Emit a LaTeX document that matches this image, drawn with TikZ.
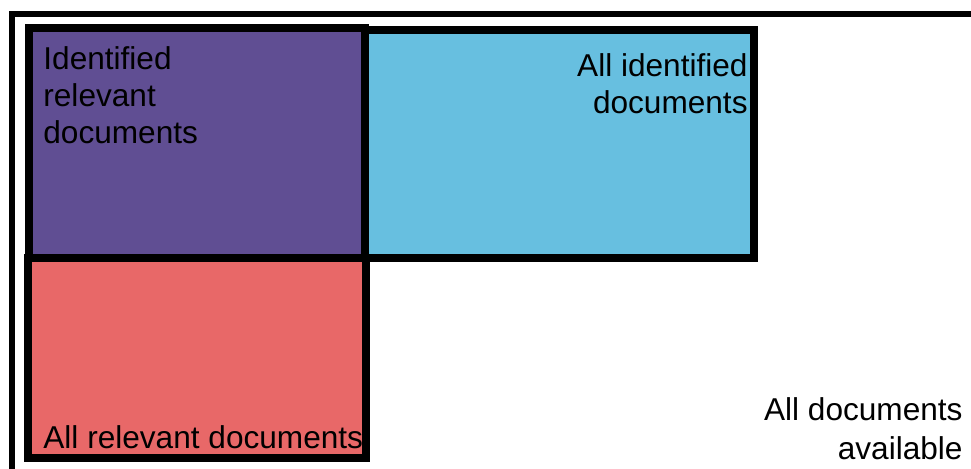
\documentclass[tikz,border=0pt]{standalone}
\usepackage{fontspec}
\setmainfont{Liberation Sans}
\definecolor{cpurple}{RGB}{96,78,147}
\definecolor{cblue}{RGB}{103,191,224}
\definecolor{cred}{RGB}{232,104,104}
\tikzset{
  setbox/.style={draw=black, line width=4pt, line join=miter},
  lbl/.style={inner sep=0pt, font=\fontsize{15.8pt}{18.5pt}\selectfont, text=black},
}
\begin{document}
\begin{tikzpicture}[x=0.5pt,y=-0.5pt]
\useasboundingbox (0,0) rectangle (971,468);
\clip (0,0) rectangle (971,468);
% outer frame (all documents)
\draw[line width=3pt] (11.5,13.5) rectangle (1000,520);
% boxes
\draw[setbox, fill=cblue] (365,29.5) rectangle (754,258);
\draw[setbox, fill=cred] (28,257.5) rectangle (366,458);
\draw[setbox, fill=cpurple] (28.5,28) rectangle (365,257.5);
% labels
\node[lbl, anchor=north west, align=left] (irel) at (43,46) {Identified\\relevant\\documents};
\node[lbl, anchor=north east, align=right] (aid) at (748,53) {All identified\\documents};
\node[lbl, anchor=base west] (arel) at (43,448) {All relevant documents};
\node[lbl, anchor=north east, align=right, font=\fontsize{15.8pt}{19.5pt}\selectfont] (adoc) at (963,397) {All documents\\available};
\end{tikzpicture}
\end{document}
